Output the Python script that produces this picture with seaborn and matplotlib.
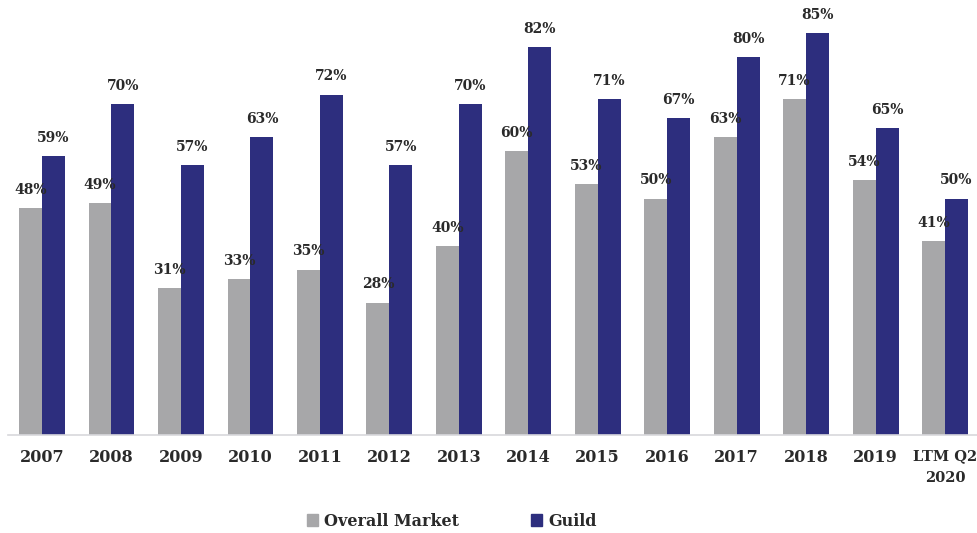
import matplotlib
matplotlib.use("Agg")
import matplotlib.pyplot as plt
import seaborn as sns
import pandas as pd

years = ["2007", "2008", "2009", "2010", "2011", "2012", "2013", "2014",
         "2015", "2016", "2017", "2018", "2019", "LTM Q2\n2020"]
overall_market = [48, 49, 31, 33, 35, 28, 40, 60, 53, 50, 63, 71, 54, 41]
guild = [59, 70, 57, 63, 72, 57, 70, 82, 71, 67, 80, 85, 65, 50]
series_names = ["Overall Market", "Guild"]

df = pd.DataFrame({
    "year": years * 2,
    "value": overall_market + guild,
    "series": [series_names[0]] * len(years) + [series_names[1]] * len(years),
})

sns.set_theme(style="white")
plt.rcParams["font.family"] = ["DejaVu Serif"]

fig = plt.figure(figsize=(9.77, 5.33), dpi=100)
ax = fig.add_axes([8 / 977, 1 - 435 / 533, 1 - 8 / 977, 435 / 533])

palette = {"Overall Market": "#a7a7a9", "Guild": "#2d2e7e"}
sns.barplot(data=df, x="year", y="value", hue="series", order=years,
            hue_order=series_names, palette=palette, width=0.66,
            saturation=1, linewidth=0, ax=ax, legend=False)

for container in ax.containers:
    ax.bar_label(container, labels=[f"{v:.0f}%" for v in container.datavalues],
                 padding=8, fontsize=10, fontweight="bold", color="#2a2a2a")

ax.set_xlim(-0.49, 13.46)
ax.set_ylim(0, 92)
ax.set_xlabel("")
ax.set_ylabel("")
ax.set_yticks([])
for side in ["top", "right", "left"]:
    ax.spines[side].set_visible(False)
ax.spines["bottom"].set_color("#d8d8dc")
ax.spines["bottom"].set_linewidth(1.2)
ax.tick_params(axis="x", length=0, pad=10)
tick_labels = ax.get_xticklabels()
for lbl in tick_labels:
    lbl.set_fontsize(11.5)
    lbl.set_fontweight("bold")
    lbl.set_color("#2a2a2a")
tick_labels[-1].set_fontsize(10.5)
tick_labels[-1].set_linespacing(1.75)

handles = [plt.Rectangle((0, 0), 1, 1, color=palette[s]) for s in series_names]
fig.legend(handles, series_names, loc="center", bbox_to_anchor=(452 / 977, 1 - 521 / 533),
           ncol=2, frameon=False, handlelength=0.7, handleheight=0.7,
           columnspacing=4.5, handletextpad=0.4,
           prop={"size": 11.5, "weight": "bold"}, labelcolor="#2a2a2a")

fig.savefig("out.png", dpi=100)
